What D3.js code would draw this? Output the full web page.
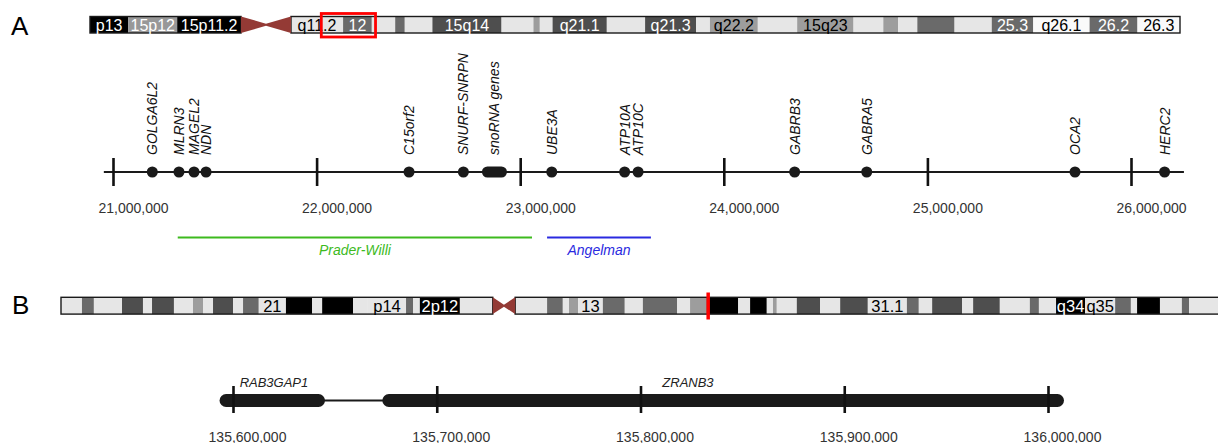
<!DOCTYPE html>
<html>
<head>
<meta charset="utf-8">
<script src="https://cdn.jsdelivr.net/npm/d3@7"></script>
<style>
  html, body { margin: 0; padding: 0; background: #fff; }
  svg { display: block; font-family: "Liberation Sans", Arial, Helvetica, sans-serif; }
</style>
</head>
<body>
<svg id="chart" width="1218" height="443"></svg>
<script>
// ---------------- DATA ----------------
// Chromosome 15 ideogram (Mb): [start, end, stain, label]
const chr15Length = 102.5;
const chr15Centromere = [14.2, 18.9];
const chr15Bands = [
  [0, 3.6, "gpos100", "p13"],
  [3.6, 8.2, "stalk", "15p12"],
  [8.2, 14.2, "gpos100", "15p11.2"],
  [18.9, 23.8, "gneg", "q11.2"],
  [23.8, 26.5, "gpos50", "12"],
  [26.5, 28.7, "gneg", ""],
  [28.7, 29.6, "gpos50", ""],
  [29.6, 32.2, "gneg", ""],
  [32.2, 38.7, "gpos75", "15q14"],
  [38.7, 41.7, "gneg", ""],
  [41.7, 42.3, "gpos25", ""],
  [42.3, 43.5, "gneg", ""],
  [43.5, 48.6, "gpos75", "q21.1"],
  [48.6, 52.2, "gneg", ""],
  [52.2, 57.0, "gpos75", "q21.3"],
  [57.0, 58.3, "gneg", ""],
  [58.3, 62.8, "gpos25", "q22.2"],
  [62.8, 66.5, "gneg", ""],
  [66.5, 71.8, "gpos25", "15q23"],
  [71.8, 74.6, "gneg", ""],
  [74.6, 76.0, "gpos25", ""],
  [76.0, 77.8, "gneg", ""],
  [77.8, 81.3, "gpos50", ""],
  [81.3, 84.8, "gneg", ""],
  [84.8, 88.7, "gpos50", "25.3"],
  [88.7, 94.0, "white", "q26.1"],
  [94.0, 98.5, "gpos50", "26.2"],
  [98.5, 102.5, "white", "26.3"]
];
const chr15Highlight = [21.75, 26.85];

// Chromosome 2 ideogram (Mb)
const chr2Length = 243.2;
const chr2Centromere = [90.6, 95.3];
const chr2Bands = [
  [0, 4.4, "gneg", ""],
  [4.4, 6.9, "gpos50", ""],
  [6.9, 12.8, "gneg", ""],
  [12.8, 17.2, "gpos75", ""],
  [17.2, 19.1, "gneg", ""],
  [19.1, 23.7, "gpos75", ""],
  [23.7, 27.7, "gneg", ""],
  [27.7, 29.8, "gpos25", ""],
  [29.8, 31.9, "gneg", ""],
  [31.9, 36.1, "gpos75", ""],
  [36.1, 38.2, "gneg", ""],
  [38.2, 41.5, "gpos50", ""],
  [41.5, 47.2, "gneg", "21"],
  [47.2, 52.7, "gpos100", ""],
  [52.7, 54.8, "gneg", ""],
  [54.8, 61.3, "gpos100", ""],
  [61.3, 64.4, "gneg", ""],
  [64.4, 72.4, "gneg", "p14"],
  [72.4, 73.9, "gpos50", ""],
  [73.9, 75.3, "gneg", ""],
  [75.3, 83.7, "gpos100", "2p12"],
  [83.7, 90.6, "gneg", ""],
  [95.3, 102.0, "gneg", ""],
  [102.0, 105.3, "gpos50", ""],
  [105.3, 106.6, "gneg", ""],
  [106.6, 108.5, "gpos25", ""],
  [108.5, 113.7, "gneg", "13"],
  [113.7, 118.3, "gpos50", ""],
  [118.3, 122.1, "gneg", ""],
  [122.1, 129.3, "gpos50", ""],
  [129.3, 132.0, "gneg", ""],
  [132.0, 135.5, "gpos25", ""],
  [135.5, 142.1, "gpos100", ""],
  [142.1, 144.6, "gneg", ""],
  [144.6, 148.1, "gpos100", ""],
  [148.1, 149.4, "gneg", ""],
  [149.4, 150.2, "gpos25", ""],
  [150.2, 154.4, "gneg", ""],
  [154.4, 159.3, "gpos75", ""],
  [159.3, 163.5, "gneg", ""],
  [163.5, 169.3, "gpos75", ""],
  [169.3, 177.5, "gneg", "31.1"],
  [177.5, 180.0, "gpos50", ""],
  [180.0, 182.8, "gneg", ""],
  [182.8, 189.1, "gpos75", ""],
  [189.1, 191.4, "gneg", ""],
  [191.4, 197.0, "gpos75", ""],
  [197.0, 203.3, "gneg", ""],
  [203.3, 205.2, "gpos50", ""],
  [205.2, 208.8, "gneg", ""],
  [208.8, 214.9, "gpos100", "q34"],
  [214.9, 221.2, "gneg", "q35"],
  [221.2, 224.5, "gpos50", ""],
  [224.5, 225.8, "gneg", ""],
  [225.8, 230.6, "gpos100", ""],
  [230.6, 235.2, "gneg", ""],
  [235.2, 236.7, "gpos50", ""],
  [236.7, 243.2, "gneg", ""]
];
const chr2Highlight = 135.8;

// Panel A gene track
const geneNames = ["GOLGA6L2", "MLRN3", "MAGEL2", "NDN", "C15orf2", "SNURF-SNRPN", "UBE3A", "ATP10A", "ATP10C", "GABRB3", "GABRA5", "OCA2", "HERC2"];
const genePositions = [21193000, 21324000, 21398000, 21457000, 22454000, 22721000, 23155000, 23513000, 23579000, 24348000, 24702000, 25725000, 26165000];
const clusterName = "snoRNA genes";
const clusterRange = [22812000, 22935000];
const axisATicks = [21000000, 22000000, 23000000, 24000000, 25000000, 26000000];
const axisAExtent = [20955000, 26260000];
const syndromeNames = ["Prader-Willi", "Angelman"];
const syndromeRanges = [[21318000, 23058000], [23132000, 23642000]];
const syndromeColors = ["#3dba1e", "#2a2ae0"];

// Panel B gene track
const geneBNames = ["RAB3GAP1", "ZRANB3"];
const geneBStarts = [135593400, 135673300];
const geneBEnds = [135645150, 136007850];
const geneBLabelPos = [135620100, 135823300];
const axisBTicks = [135600000, 135700000, 135800000, 135900000, 136000000];

// ---------------- DRAW ----------------
const svg = d3.select("#chart");

const stainFill = { gneg: "#e6e6e6", gpos25: "#9d9d9d", stalk: "#989898", gpos50: "#6a6a6a", gpos75: "#4e4e4e", gpos100: "#000000", white: "#fafafa" };
const stainText = { gneg: "#000", gpos25: "#000", stalk: "#fff", gpos50: "#fff", gpos75: "#fff", gpos100: "#fff", white: "#000" };

function drawIdeogram(bands, centromere, length, range, y, h, fontSize) {
  const x = d3.scaleLinear().domain([0, length]).range(range);
  const g = svg.append("g");
  g.selectAll("rect.band").data(bands).join("rect")
    .attr("class", "band")
    .attr("x", d => x(d[0]))
    .attr("y", y)
    .attr("width", d => x(d[1]) - x(d[0]))
    .attr("height", h)
    .attr("fill", d => stainFill[d[2]]);
  // arm outlines
  const arms = [[0, centromere[0]], [centromere[1], length]];
  g.selectAll("rect.arm").data(arms).join("rect")
    .attr("class", "arm")
    .attr("x", d => x(d[0]))
    .attr("y", y)
    .attr("width", d => x(d[1]) - x(d[0]))
    .attr("height", h)
    .attr("fill", "none")
    .attr("stroke", "#1a1a1a")
    .attr("stroke-width", 1.4);
  // centromere bow-tie
  const c0 = x(centromere[0]), c1 = x(centromere[1]), cm = (c0 + c1) / 2;
  g.append("path")
    .attr("d", `M${c0},${y}L${c0},${y + h}L${cm},${y + h / 2 + 1}L${c1},${y + h}L${c1},${y}L${cm},${y + h / 2 - 1}Z`)
    .attr("fill", "#943a35");
  // labels
  g.selectAll("text").data(bands.filter(d => d[3])).join("text")
    .attr("x", d => (x(d[0]) + x(d[1])) / 2)
    .attr("y", y + h - 2)
    .attr("text-anchor", "middle")
    .attr("font-size", fontSize)
    .attr("fill", d => stainText[d[2]])
    .text(d => d[3]);
  return x;
}

// Panel letters
svg.append("text").attr("x", 11).attr("y", 35).attr("font-size", 26).attr("fill", "#000").text("A");
svg.append("text").attr("x", 12).attr("y", 314).attr("font-size", 26).attr("fill", "#000").text("B");

// Ideogram A
const xIdeoA = drawIdeogram(chr15Bands, chr15Centromere, chr15Length, [90, 1180], 16.5, 16.5, 16);
svg.append("rect")
  .attr("x", xIdeoA(chr15Highlight[0]))
  .attr("y", 13.5)
  .attr("width", xIdeoA(chr15Highlight[1]) - xIdeoA(chr15Highlight[0]))
  .attr("height", 23.5)
  .attr("fill", "none")
  .attr("stroke", "#ff0000")
  .attr("stroke-width", 2.8);

// Ideogram B
const xIdeoB = drawIdeogram(chr2Bands, chr2Centromere, chr2Length, [61, 1220], 297.3, 16.8, 16.5);
svg.append("line")
  .attr("x1", xIdeoB(chr2Highlight)).attr("x2", xIdeoB(chr2Highlight))
  .attr("y1", 292.5).attr("y2", 319.5)
  .attr("stroke", "#ff0000")
  .attr("stroke-width", 3.5);

// ---- Panel A gene track ----
const xA = d3.scaleLinear().domain([21000000, 26000000]).range([113, 1131]);
const lineYA = 172;

svg.append("line")
  .attr("x1", xA(axisAExtent[0])).attr("x2", xA(axisAExtent[1]))
  .attr("y1", lineYA).attr("y2", lineYA)
  .attr("stroke", "#1a1a1a").attr("stroke-width", 2.2);

const axA = svg.append("g")
  .attr("transform", `translate(0,158)`)
  .call(d3.axisBottom(xA).tickValues(axisATicks).tickSize(28).tickFormat(d3.format(",")));
axA.select(".domain").remove();
axA.selectAll(".tick line").attr("stroke", "#111").attr("stroke-width", 2.6);
axA.selectAll(".tick text")
  .attr("x", 20).attr("y", 54.5).attr("dy", 0)
  .attr("font-size", 14).attr("font-family", "Liberation Sans, Arial, sans-serif")
  .attr("fill", "#333");

// dots
svg.selectAll("circle.gene").data(genePositions).join("circle")
  .attr("class", "gene")
  .attr("cx", d => xA(d)).attr("cy", lineYA).attr("r", 5.5)
  .attr("fill", "#1a1a1a");
// snoRNA cluster
svg.append("rect")
  .attr("x", xA(clusterRange[0])).attr("y", lineYA - 5.5)
  .attr("width", xA(clusterRange[1]) - xA(clusterRange[0])).attr("height", 11)
  .attr("rx", 5.5)
  .attr("fill", "#1a1a1a");

// rotated gene labels
const labelData = geneNames.map((n, i) => ({ name: n, pos: genePositions[i] }))
  .concat([{ name: clusterName, pos: (clusterRange[0] + clusterRange[1]) / 2 }]);
svg.selectAll("text.glabel").data(labelData).join("text")
  .attr("class", "glabel")
  .attr("transform", d => `translate(${xA(d.pos)},155) rotate(-90)`)
  .attr("dy", "0.36em")
  .attr("font-size", 14)
  .attr("font-style", "italic")
  .attr("fill", "#111")
  .text(d => d.name);

// syndrome regions
syndromeRanges.forEach((r, i) => {
  svg.append("line")
    .attr("x1", xA(r[0])).attr("x2", xA(r[1]))
    .attr("y1", 237.5).attr("y2", 237.5)
    .attr("stroke", syndromeColors[i]).attr("stroke-width", 2.2);
  svg.append("text")
    .attr("x", (xA(r[0]) + xA(r[1])) / 2).attr("y", 255)
    .attr("text-anchor", "middle")
    .attr("font-size", 14).attr("font-style", "italic")
    .attr("fill", syndromeColors[i])
    .text(syndromeNames[i]);
});

// ---- Panel B gene track ----
const xB = d3.scaleLinear().domain([135600000, 136000000]).range([233, 1048]);
const lineYB = 400.5;

svg.append("line")
  .attr("x1", xB(geneBEnds[0]) - 3).attr("x2", xB(geneBStarts[1]) + 3)
  .attr("y1", lineYB).attr("y2", lineYB)
  .attr("stroke", "#1a1a1a").attr("stroke-width", 2);

svg.selectAll("rect.geneB").data(geneBNames).join("rect")
  .attr("class", "geneB")
  .attr("x", (d, i) => xB(geneBStarts[i]))
  .attr("y", lineYB - 6.5)
  .attr("width", (d, i) => xB(geneBEnds[i]) - xB(geneBStarts[i]))
  .attr("height", 13)
  .attr("rx", 6.5)
  .attr("fill", "#1a1a1a");

const axB = svg.append("g")
  .attr("transform", `translate(0,386)`)
  .call(d3.axisBottom(xB).tickValues(axisBTicks).tickSize(27).tickFormat(d3.format(",")));
axB.select(".domain").remove();
axB.selectAll(".tick line").attr("stroke", "#111").attr("stroke-width", 2.6);
axB.selectAll(".tick text")
  .attr("x", 14).attr("y", 55.5).attr("dy", 0)
  .attr("font-size", 14).attr("font-family", "Liberation Sans, Arial, sans-serif")
  .attr("fill", "#333");

svg.selectAll("text.geneBLabel").data(geneBNames).join("text")
  .attr("class", "geneBLabel")
  .attr("x", (d, i) => xB(geneBLabelPos[i]))
  .attr("y", 387)
  .attr("text-anchor", "middle")
  .attr("font-size", 13)
  .attr("font-style", "italic")
  .attr("fill", "#222")
  .text(d => d);
</script>
</body>
</html>
